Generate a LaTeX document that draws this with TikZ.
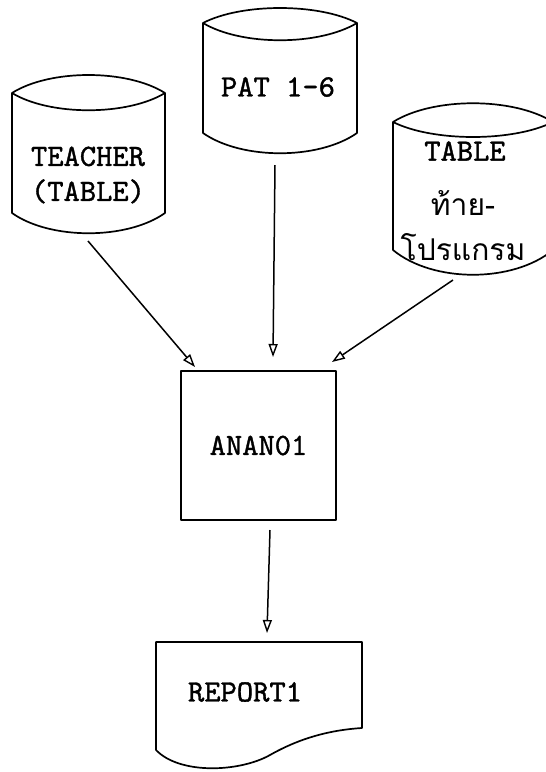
\documentclass[tikz,border=0pt]{standalone}
\usepackage{fontspec}
\newfontfamily\thaifont[Script=Thai]{Loma}
\newfontfamily\tw[FakeBold=1.2]{lmmono10-regular.otf}
\usetikzlibrary{arrows.meta}
\begin{document}
\begin{tikzpicture}[x=1pt,y=-1pt,
  outline/.style={draw=black, line width=1.7pt, line join=round},
  lbl/.style={font=\fontsize{31}{35}\selectfont\tw, inner sep=0pt, align=center},
  thai/.style={font=\fontsize{30}{34}\selectfont\thaifont, inner sep=0pt},
  flow/.style={-{Triangle[open,length=13pt,width=9pt,line width=1.4pt]}, line width=1.5pt}
]
\useasboundingbox (0,0) rectangle (546,772);

% TEACHER (TABLE) cylinder
\draw[outline] (12,93) .. controls (50,69) and (127,69) .. (165,93)
  .. controls (127,116) and (50,116) .. (12,93) -- (12,213)
  .. controls (50,240) and (127,240) .. (165,213) -- (165,93);
\node[lbl] (teacher) at (88,175) {TEACHER\\(TABLE)};

% PAT 1-6 cylinder
\draw[outline] (203,23) .. controls (241.5,3) and (318.5,3) .. (357,23)
  .. controls (318.5,46) and (241.5,46) .. (203,23) -- (203,133)
  .. controls (241.5,160) and (318.5,160) .. (357,133) -- (357,23);
\node[lbl] (pat) at (278,87) {PAT 1-6};

% TABLE cylinder (right, partly cut off)
\draw[outline] (393,122) .. controls (433,97) and (513,97) .. (553,122)
  .. controls (513,142) and (433,142) .. (393,122) -- (393,250)
  .. controls (433,283) and (513,283) .. (553,250) -- (553,122);
\node[lbl] (table) at (465,151) {TABLE};
\node[thai] (thai1) at (463,203) {ท้าย-};
\node[thai] (thai2) at (463,247) {โปรแกรม};

% Process box
\node[outline, lbl, minimum width=155pt, minimum height=149pt] (anan) at (258.5,445.5) {ANAN01};

% Report document
\draw[outline] (156,642) -- (362,642) -- (362,728)
  .. controls (330,730) and (300,738) .. (270,755)
  .. controls (240,772) and (180,775) .. (156,750) -- cycle;
\node[lbl] (rep) at (245,692) {REPORT1};

% connector end points
\coordinate (a1s) at (88,241);
\coordinate (a1e) at (195,367);
\coordinate (a2s) at (275,165);
\coordinate (a2e) at (273,357);
\coordinate (a3s) at (453,280);
\coordinate (a3e) at (332,362);
\coordinate (a4s) at (270,530);
\coordinate (a4e) at (267,633);

\draw[flow] (a1s) -- (a1e);
\draw[flow] (a2s) -- (a2e);
\draw[flow] (a3s) -- (a3e);
\draw[flow] (a4s) -- (a4e);
\end{tikzpicture}
\end{document}
